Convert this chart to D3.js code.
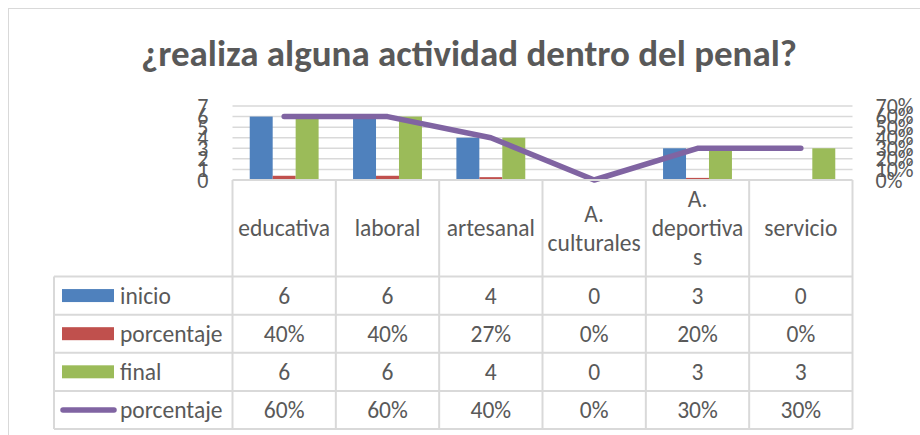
<!DOCTYPE html>
<html>
<head>
<meta charset="utf-8">
<script src="https://cdn.jsdelivr.net/npm/d3@7"></script>
<style>
  html, body { margin: 0; padding: 0; background: #fff; }
  svg { display: block; }
  text { font-family: Carlito, Lato, "Liberation Sans", sans-serif; fill: #595959; }
</style>
</head>
<body>
<svg id="chart" width="920" height="435"></svg>
<script>
// ---- data ----
const title = "¿realiza alguna actividad dentro del penal?";
const categories = ["educativa", "laboral", "artesanal", "A. culturales", "A. deportivas", "servicio"];
const categoryLines = [["educativa"], ["laboral"], ["artesanal"], ["A.", "culturales"], ["A.", "deportiva", "s"], ["servicio"]];
const inicio = [6, 6, 4, 0, 3, 0];
const porcentajeInicio = [0.40, 0.40, 0.27, 0, 0.20, 0];
const final = [6, 6, 4, 0, 3, 3];
const porcentajeFinal = [0.60, 0.60, 0.40, 0, 0.30, 0.30];
const leftTicks = [0, 1, 2, 3, 4, 5, 6, 7];
const rightTicks = [0, 0.1, 0.2, 0.3, 0.4, 0.5, 0.6, 0.7];
const seriesNames = ["inicio", "porcentaje", "final", "porcentaje"];

// ---- layout ----
const svg = d3.select("#chart");
const colors = { inicio: "#4F81BD", pctI: "#C0504D", final: "#9BBB59", pctF: "#8064A2" };
const plot = { left: 232.5, right: 852.5, top: 106, bottom: 180 };
const table = { left: 54, headerBottom: 276.5, bottom: 429 };
const gridColor = "#D9D9D9";
const cellFont = "23.5px";

// chart frame
svg.append("rect").attr("x", 8.5).attr("y", 8.5).attr("width", 940).attr("height", 460)
  .attr("fill", "#fff").attr("stroke", gridColor).attr("stroke-width", 1);

// title
svg.append("text").attr("x", 469).attr("y", 66).attr("text-anchor", "middle")
  .style("font-size", "37px").style("font-weight", "bold").text(title);

const x = d3.scaleBand().domain(categories).range([plot.left, plot.right]).padding(0);
const y = d3.scaleLinear().domain([0, 7]).range([plot.bottom, plot.top]);
const y2 = d3.scaleLinear().domain([0, 0.7]).range([plot.bottom, plot.top]);

// gridlines
svg.append("g").selectAll("line").data(leftTicks.filter(d => d > 0)).join("line")
  .attr("x1", plot.left).attr("x2", plot.right)
  .attr("y1", d => y(d)).attr("y2", d => y(d))
  .attr("stroke", gridColor).attr("stroke-width", 1.5);

// axes
const axL = svg.append("g").attr("transform", `translate(${plot.left - 24},0)`)
  .call(d3.axisLeft(y).tickValues(leftTicks).tickSize(0).tickFormat(d3.format("d")));
axL.select(".domain").remove();
axL.selectAll("text").style("font-size", "22px").style("fill", "#595959").attr("x", 0)
  .style("font-family", "Carlito, Lato, sans-serif");

const axR = svg.append("g").attr("transform", `translate(${plot.right + 23},0)`)
  .call(d3.axisRight(y2).tickValues(rightTicks).tickSize(0).tickFormat(d3.format(".0%")));
axR.select(".domain").remove();
axR.selectAll("text").style("font-size", "22px").style("fill", "#595959").attr("x", 0)
  .style("font-family", "Carlito, Lato, sans-serif");

// bars
const bw = x.bandwidth() / 4.5;
const barSeries = [
  { vals: inicio, color: colors.inicio },
  { vals: porcentajeInicio, color: colors.pctI },
  { vals: final, color: colors.final }
];
barSeries.forEach((s, si) => {
  svg.append("g").selectAll("rect").data(categories).join("rect")
    .attr("x", (c) => x(c) + bw * 0.75 + si * bw)
    .attr("width", bw)
    .attr("y", (c, i) => y(s.vals[i]))
    .attr("height", (c, i) => y(0) - y(s.vals[i]))
    .attr("fill", s.color);
});

// line
const line = d3.line().x((d, i) => x(categories[i]) + x.bandwidth() / 2).y(d => y2(d));
svg.append("path").datum(porcentajeFinal).attr("d", line)
  .attr("fill", "none").attr("stroke", colors.pctF).attr("stroke-width", 5.5)
  .attr("stroke-linecap", "round").attr("stroke-linejoin", "round");

// ---- data table ----
const tg = svg.append("g");
const rowH = (table.bottom - table.headerBottom) / 4;
const tStroke = 2;
tg.append("line").attr("x1", plot.left).attr("x2", plot.right).attr("y1", plot.bottom).attr("y2", plot.bottom)
  .attr("stroke", gridColor).attr("stroke-width", tStroke);
d3.range(5).forEach(r => {
  tg.append("line").attr("x1", table.left).attr("x2", plot.right)
    .attr("y1", table.headerBottom + r * rowH).attr("y2", table.headerBottom + r * rowH)
    .attr("stroke", gridColor).attr("stroke-width", tStroke);
});
tg.append("line").attr("x1", table.left).attr("x2", table.left).attr("y1", table.headerBottom).attr("y2", table.bottom)
  .attr("stroke", gridColor).attr("stroke-width", tStroke);
categories.concat([null]).forEach((c) => {
  const xx = c === null ? plot.right : x(c);
  tg.append("line").attr("x1", xx).attr("x2", xx).attr("y1", plot.bottom).attr("y2", table.bottom)
    .attr("stroke", gridColor).attr("stroke-width", tStroke);
});

// header labels
const lineGap = 29;
const headerMid = 236;
categories.forEach((c, i) => {
  const lines = categoryLines[i];
  const n = lines.length;
  const t = tg.append("text").attr("text-anchor", "middle").style("font-size", cellFont);
  lines.forEach((ln, k) => {
    t.append("tspan").attr("x", x(c) + x.bandwidth() / 2)
      .attr("y", headerMid + (k - (n - 1) / 2) * lineGap).text(ln);
  });
});

// rows
const fmtPct = d3.format(".0%");
const rows = [
  { name: seriesNames[0], vals: inicio, fmt: d3.format("d"), key: "rect", color: colors.inicio },
  { name: seriesNames[1], vals: porcentajeInicio, fmt: fmtPct, key: "rect", color: colors.pctI },
  { name: seriesNames[2], vals: final, fmt: d3.format("d"), key: "rect", color: colors.final },
  { name: seriesNames[3], vals: porcentajeFinal, fmt: fmtPct, key: "line", color: colors.pctF }
];
rows.forEach((r, ri) => {
  const cy = table.headerBottom + ri * rowH + rowH / 2;
  if (r.key === "rect") {
    tg.append("rect").attr("x", 62).attr("y", cy - 6.5).attr("width", 52).attr("height", 13).attr("fill", r.color);
  } else {
    tg.append("line").attr("x1", 63).attr("x2", 114).attr("y1", cy).attr("y2", cy)
      .attr("stroke", r.color).attr("stroke-width", 5.5).attr("stroke-linecap", "round");
  }
  tg.append("text").attr("x", 120).attr("y", cy).attr("dy", "0.35em").style("font-size", cellFont).text(r.name);
  categories.forEach((c, i) => {
    tg.append("text").attr("x", x(c) + x.bandwidth() / 2).attr("y", cy).attr("dy", "0.35em")
      .attr("text-anchor", "middle").style("font-size", cellFont).text(r.fmt(r.vals[i]));
  });
});
</script>
</body>
</html>
